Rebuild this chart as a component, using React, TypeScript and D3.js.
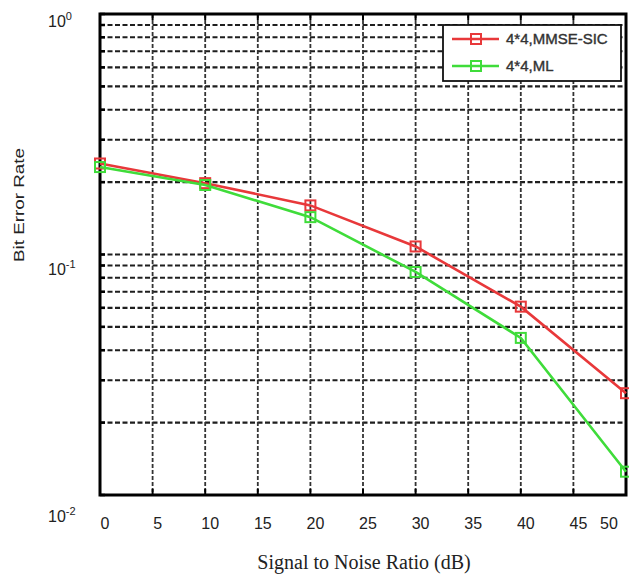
import React from "react";
import * as d3 from "d3";

const snr = [0, 10, 20, 30, 40, 50];
const berMmseSic = [0.239, 0.198, 0.16, 0.108, 0.0607, 0.0265];
const berMl = [0.231, 0.1945, 0.143, 0.0846, 0.045, 0.0125];
const xTicks = [0, 5, 10, 15, 20, 25, 30, 35, 40, 45, 50];
const yDecades = [1, 0.1, 0.01];
const yExponents = ["0", "-1", "-2"];
const seriesNames = ["4*4,MMSE-SIC", "4*4,ML"];
const seriesColors = ["#e8383a", "#3fdc3a"];

const W = 629;
const H = 579;
const M = { left: 100, right: 626, top: 14, bottom: 495 };

export default function App() {
  const x = d3.scaleLinear().domain([0, 50]).range([M.left, M.right]);
  const y = d3.scaleLog().domain([0.01, 1]).range([M.bottom, M.top]);
  // tick labels in the reference sit on a slightly different spacing than the grid
  const yLabel = d3.scaleLog().domain([0.01, 1]).range([522, 27]);

  const minor: number[] = [];
  for (let e = -2; e < 0; e++) {
    for (let k = 1; k <= 9; k++) minor.push(k * Math.pow(10, e));
  }
  minor.push(1);

  const line = d3
    .line<[number, number]>()
    .x((d) => x(d[0]))
    .y((d) => y(d[1]));

  const series = [berMmseSic, berMl].map((vals, i) => ({
    name: seriesNames[i],
    color: seriesColors[i],
    pts: snr.map((s, j) => [s, vals[j]] as [number, number]),
  }));

  const ms = 10;

  return (
    <svg
      width={W}
      height={H}
      style={{ position: "absolute", left: 0, top: 0, background: "#fff" }}
    >
      <rect x={0} y={0} width={W} height={H} fill="#fff" />
      {/* horizontal grid */}
      {minor.map((v, i) => (
        <line
          key={"h" + i}
          x1={M.left}
          x2={M.right}
          y1={y(v)}
          y2={y(v)}
          stroke="#1e1e1e"
          strokeWidth={2.1}
          strokeDasharray="5,2.5"
        />
      ))}
      {/* vertical grid */}
      {xTicks.map((t, i) => (
        <line
          key={"v" + i}
          x1={x(t)}
          x2={x(t)}
          y1={M.top}
          y2={M.bottom}
          stroke="#333"
          strokeWidth={1.8}
          strokeDasharray="4,2"
        />
      ))}
      {/* inner ticks */}
      {xTicks.map((t, i) => (
        <g key={"xt" + i}>
          <line x1={x(t)} x2={x(t)} y1={M.top} y2={M.top + 6} stroke="#000" strokeWidth={2} />
          <line x1={x(t)} x2={x(t)} y1={M.bottom} y2={M.bottom - 6} stroke="#000" strokeWidth={2} />
        </g>
      ))}
      {minor.map((v, i) => (
        <line
          key={"yt" + i}
          x1={M.left}
          x2={M.left + 5}
          y1={y(v)}
          y2={y(v)}
          stroke="#000"
          strokeWidth={2.5}
        />
      ))}
      {/* frame */}
      <rect
        x={M.left}
        y={M.top}
        width={M.right - M.left}
        height={M.bottom - M.top}
        fill="none"
        stroke="#000"
        strokeWidth={3}
      />
      {/* series */}
      {series.map((s, i) => (
        <g key={"s" + i}>
          <path d={line(s.pts) || ""} fill="none" stroke={s.color} strokeWidth={2.6} />
          {s.pts.map((p, j) => (
            <rect
              key={j}
              x={x(p[0]) - ms / 2}
              y={y(p[1]) - ms / 2}
              width={ms}
              height={ms}
              fill="none"
              stroke={s.color}
              strokeWidth={2}
            />
          ))}
        </g>
      ))}
      {/* legend */}
      <g>
        <rect x={443} y={25} width={178} height={56} fill="#fff" stroke="#111" strokeWidth={1.8} />
        {series.map((s, i) => {
          const ly = 39 + i * 27;
          return (
            <g key={"l" + i}>
              <line x1={452} x2={499} y1={ly} y2={ly} stroke={s.color} strokeWidth={2.6} />
              <rect x={476 - ms / 2} y={ly - ms / 2} width={ms} height={ms} fill="none" stroke={s.color} strokeWidth={2} />
              <text
                x={506}
                y={ly + 5}
                fontFamily="Liberation Sans, Arial, sans-serif"
                fontSize={15}
                fill="#333"
                stroke="#333"
                strokeWidth={0.4}
              >
                {s.name}
              </text>
            </g>
          );
        })}
      </g>
      {/* x tick labels */}
      {xTicks.map((t, i) => (
        <text
          key={"xl" + i}
          x={Math.min(x(t) + 5, 609)}
          y={529}
          textAnchor="middle"
          fontFamily="Liberation Sans, Arial, sans-serif"
          fontSize={16}
          fill="#222"
        >
          {t}
        </text>
      ))}
      {/* y tick labels */}
      {yDecades.map((d, i) => (
        <text
          key={"yl" + i}
          x={48}
          y={yLabel(d)}
          fontFamily="Liberation Sans, Arial, sans-serif"
          fontSize={16}
          fill="#222"
        >
          10
          <tspan fontSize={11} dy={-7}>
            {yExponents[i]}
          </tspan>
        </text>
      ))}
      {/* axis titles */}
      <text
        transform="translate(24,205) rotate(-90)"
        textAnchor="middle"
        fontFamily="Liberation Sans, Arial, sans-serif"
        fontSize={15}
        fill="#222"
        textLength={114}
        lengthAdjust="spacingAndGlyphs"
      >
        Bit Error Rate
      </text>
      <text
        x={364}
        y={569}
        textAnchor="middle"
        fontFamily="Liberation Serif, Times New Roman, serif"
        fontSize={20}
        fill="#222"
      >
        Signal to Noise Ratio (dB)
      </text>
    </svg>
  );
}
